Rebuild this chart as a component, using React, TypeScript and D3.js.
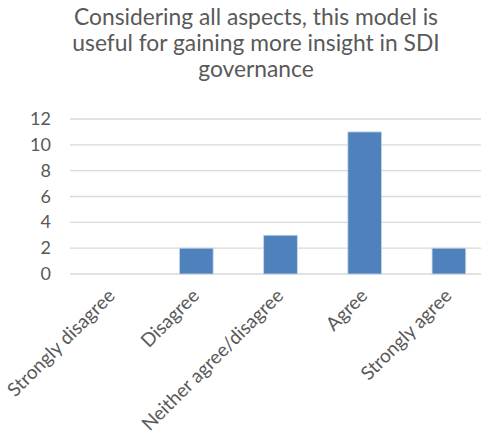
import React from "react";
import * as d3 from "d3";

const categories = ["Strongly disagree", "Disagree", "Neither agree/disagree", "Agree", "Strongly agree"];
const values = [0, 2, 3, 11, 2];
const yTicks = [0, 2, 4, 6, 8, 10, 12];
const titleLines = ["Considering all aspects, this model is", "useful for gaining more insight in SDI", "governance"];

const W = 481;
const H = 434;
const FONT = "Lato, 'Open Sans', sans-serif";
const TEXT = "#595959";

export default function App() {
  const band = d3.scaleBand<string>().domain(categories).range([70, 491]);
  const y = d3.scaleLinear().domain([0, 12]).range([274, 119]);

  return (
    <svg width={W} height={H} style={{ position: "absolute", left: 0, top: 0, background: "#fff" }}>
      <rect width={W} height={H} fill="#fff" />
      {titleLines.map((t, i) => (
        <text key={i} x={256} y={25 + i * 26} textAnchor="middle" fontFamily={FONT} fontSize={22.8} fill={TEXT}>
          {t}
        </text>
      ))}
      {yTicks.map((t) => (
        <g key={t}>
          <line x1={70} x2={491} y1={y(t)} y2={y(t)} stroke="#d9d9d9" strokeWidth={1.3} />
          <text x={51} y={y(t) + 6} textAnchor="end" fontFamily={FONT} fontSize={18} fill={TEXT}>
            {t}
          </text>
        </g>
      ))}
      {categories.map((c, i) => {
        const cx = (band(c) as number) + band.bandwidth() / 2;
        const bw = band.bandwidth() / 2.5;
        return (
          <rect
            key={c}
            x={cx - bw / 2}
            width={bw}
            y={y(values[i])}
            height={y(0) - y(values[i])}
            fill="#4f81bd"
            stroke="#c5d5ea"
            strokeWidth={values[i] > 0 ? 0.8 : 0}
          />
        );
      })}
      {categories.map((c) => {
        const cx = (band(c) as number) + band.bandwidth() / 2;
        return (
          <text
            key={c}
            transform={`translate(${cx + 4},${297}) rotate(-45)`}
            textAnchor="end"
            fontFamily={FONT}
            fontSize={19}
            fill={TEXT}
          >
            {c}
          </text>
        );
      })}
    </svg>
  );
}
